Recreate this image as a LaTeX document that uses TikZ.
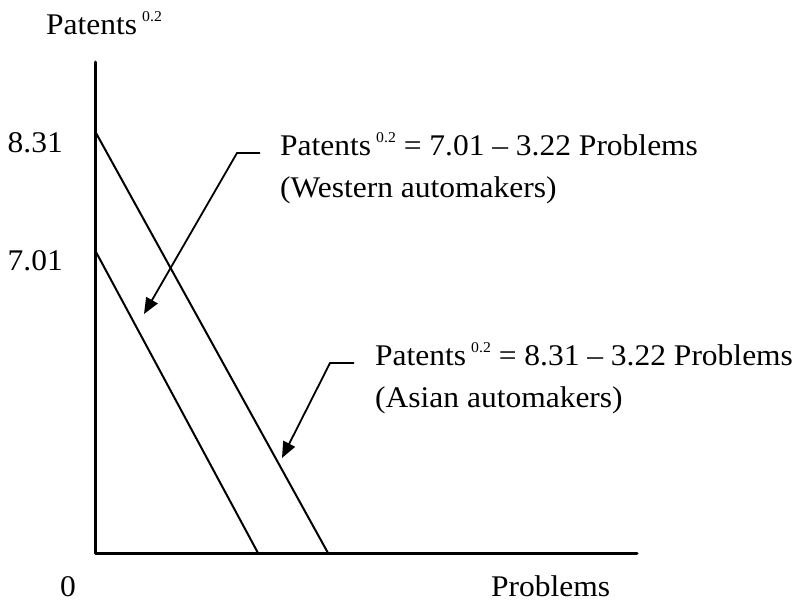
\documentclass[tikz,border=0pt]{standalone}
\usepackage{fontspec}
\setmainfont{Liberation Serif}[FakeStretch=1.05]
\usetikzlibrary{arrows.meta}
\newcommand\supz{\,\raisebox{0.42em}{\fontsize{15}{15}\selectfont 0.2}}
\tikzset{
  lbl/.style={font=\fontsize{30}{36}\selectfont, inner sep=0pt},
  axisline/.style={line width=3pt, line cap=round, line join=round},
  curve/.style={line width=2pt},
  callout/.style={line width=1.8pt, -{Triangle[length=16pt,width=13pt]}}
}
\begin{document}
\begin{tikzpicture}[x=1pt,y=-1pt]
\useasboundingbox (0,0) rectangle (793,603);
% axes
\coordinate (ytop) at (95,62);
\coordinate (O) at (95,553);
\coordinate (xend) at (637,553);
\draw[axisline] (ytop) -- (O) -- (xend);
% lines
\coordinate (a1) at (96,133);
\coordinate (a2) at (328,553);
\coordinate (b1) at (96,252);
\coordinate (b2) at (258,553);
\draw[curve] (a1) -- (a2);
\draw[curve] (b1) -- (b2);
% axis labels
\node[lbl, anchor=base west] (ylab) at (46,34) {Patents\supz};
\node[lbl, anchor=base east] (v831) at (63,152) {8.31};
\node[lbl, anchor=base east] (v701) at (63,270) {7.01};
\node[lbl, anchor=base] (zero) at (68,596) {0};
\node[lbl, anchor=base west] (xlab) at (491,596) {Problems};
% western label
\node[lbl, anchor=base west] (w1) at (280,155) {Patents\supz{} = 7.01 – 3.22 Problems};
\node[lbl, anchor=base west] (w2) at (280,197) {(Western automakers)};
\coordinate (wstub) at (260,153);
\coordinate (wbend) at (237,153);
\coordinate (wtip) at (144,314);
\draw[callout] (wstub) -- (wbend) -- (wtip);
% asian label
\node[lbl, anchor=base west] (s1) at (375,365) {Patents\supz{} = 8.31 – 3.22 Problems};
\node[lbl, anchor=base west] (s2) at (375,407) {(Asian automakers)};
\coordinate (sstub) at (354,363);
\coordinate (sbend) at (330,363);
\coordinate (stip) at (282,458);
\draw[callout] (sstub) -- (sbend) -- (stip);
\end{tikzpicture}
\end{document}
